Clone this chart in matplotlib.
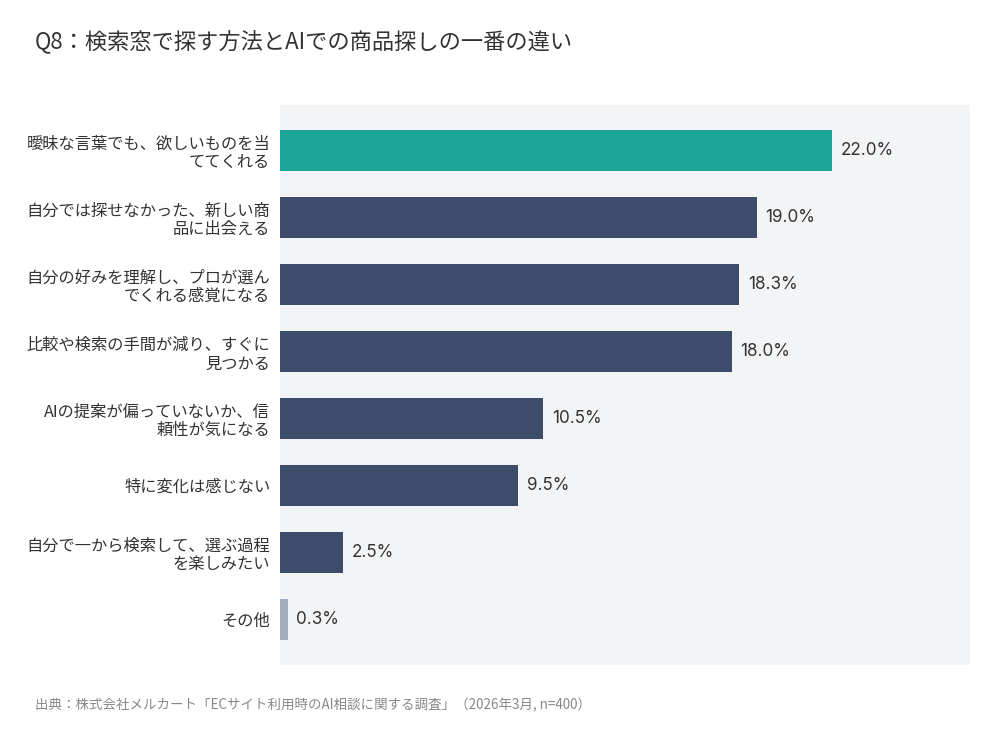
import matplotlib
matplotlib.use('Agg')
import matplotlib.pyplot as plt

plt.rcParams['font.family'] = ['Noto Sans CJK JP', 'DejaVu Sans']

# data
labels = ['曖昧な言葉でも、欲しいものを当\nててくれる',
          '自分では探せなかった、新しい商\n品に出会える',
          '自分の好みを理解し、プロが選ん\nでくれる感覚になる',
          '比較や検索の手間が減り、すぐに\n見つかる',
          'AIの提案が偏っていないか、信\n頼性が気になる',
          '特に変化は感じない',
          '自分で一から検索して、選ぶ過程\nを楽しみたい',
          'その他']
values = [22.0, 19.0, 18.3, 18.0, 10.5, 9.5, 2.5, 0.3]
colors = ['#1BA698', '#3D4C6A', '#3D4C6A', '#3D4C6A', '#3D4C6A', '#3D4C6A', '#3D4C6A', '#A0ADBC']

fig = plt.figure(figsize=(10, 7.37), dpi=100)
ax = fig.add_axes([0.28, 0.0977, 0.69, 0.76])
ax.set_facecolor('#F3F4F6')

y = list(range(len(values)))
ax.barh(y, values, height=0.6, color=colors)
for yi, v in zip(y, values):
    ax.text(v + 0.35, yi, f'{v:.1f}%', va='center', ha='left', fontsize=12.3,
            color='#333333', family=['Inter', 'DejaVu Sans'])

ax.set_xlim(0, 27.5)
ax.set_ylim(7.68, -0.68)
ax.set_yticks(y)
ax.set_yticklabels(labels, fontsize=11.7, color='#333333', ha='right', linespacing=1.15)
ax.tick_params(axis='y', length=0, pad=7)
ax.set_xticks([])
for s in ax.spines.values():
    s.set_visible(False)

fig.text(0.035, 0.943, 'Q8：検索窓で探す方法とAIでの商品探しの一番の違い', fontsize=16, color='#333333', va='center')
fig.text(0.035, 0.043, '出典：株式会社メルカート「ECサイト利用時のAI相談に関する調査」（2026年3月, n=400）', fontsize=9.7, color='#888888', va='center')

fig.savefig('out.png', dpi=100, facecolor='white')
